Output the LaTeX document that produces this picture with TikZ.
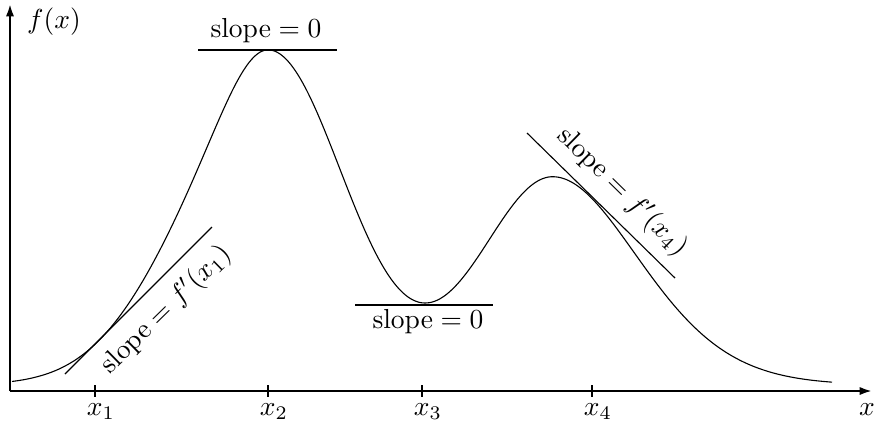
\documentclass[tikz,border=0pt]{standalone}
\usetikzlibrary{arrows.meta}
\begin{document}
\begin{tikzpicture}[x=0.3636pt,y=-0.3636pt,
  axis/.style={line width=0.8pt},
  thinline/.style={line width=0.4pt},
  flat/.style={line width=0.8pt},
  lbl/.style={inner sep=0pt},
  declare function={
    qa(\t)=(268-\t)/95;
    sl(\t)=96+24*(1-exp(-min(9,qa(\t)*qa(\t))));
    sa(\t)=(\t<268)*sl(\t)+(\t>=268)*107;
    sb(\t)=(\t<553)*102+(\t>=553)*(115+0.07*(\t-553));
    ga(\t)=(\t-268)/sa(\t);
    gb(\t)=(\t-553)/sb(\t);
    hh(\t)=6+335*exp(-min(9,ga(\t)*ga(\t)))+208*exp(-min(9,gb(\t)*gb(\t)));
  }]
\useasboundingbox (0,0) rectangle (874,423);
% axes
\coordinate (O) at (10,391);
\coordinate (ytip) at (10,4);
\coordinate (xtip) at (872,391);
\draw[axis,-{Latex[length=4.5pt,width=3pt]}] (O) -- (ytip);
\draw[axis,-{Latex[length=4.5pt,width=3pt]}] (O) -- (xtip);
% ticks
\foreach \p/\n in {95/1,268/2,422/3,592/4}{
  \coordinate (ta\n) at (\p,385);
  \coordinate (tb\n) at (\p,397);
  \draw[axis] (ta\n) -- (tb\n);
  \node[lbl,anchor=north] (lx\n) at (\p+6,403) {$x_\n$};
}
\node[lbl,anchor=north] (lx) at (867,403) {$x$};
\node[lbl] (fx) at (54,22) {$f(x)$};
% curve
\draw[thinline] plot[domain=12:832, samples=160, smooth] (\x,{391-hh(\x)});
% horizontal tangents
\coordinate (h1a) at (198,50);
\coordinate (h1b) at (337,50);
\coordinate (h2a) at (355,305);
\coordinate (h2b) at (493,305);
\draw[flat] (h1a) -- (h1b);
\draw[flat] (h2a) -- (h2b);
\node[lbl,anchor=base] (s2) at (266,37) {$\mathrm{slope} = 0$};
\node[lbl,anchor=base] (s3) at (428,328) {$\mathrm{slope} = 0$};
% sloped tangents
\coordinate (t1a) at (65,374);
\coordinate (t1b) at (212,227);
\coordinate (t4a) at (527,133);
\coordinate (t4b) at (675,278);
\draw[thinline] (t1a) -- (t1b);
\draw[thinline] (t4a) -- (t4b);
\node[lbl,rotate=44.4] (s1) at (166,310) {$\mathrm{slope} = f'(x_1)$};
\node[lbl,rotate=-44.4] (s4) at (622,192) {$\mathrm{slope} = f'(x_4)$};
\end{tikzpicture}
\end{document}
